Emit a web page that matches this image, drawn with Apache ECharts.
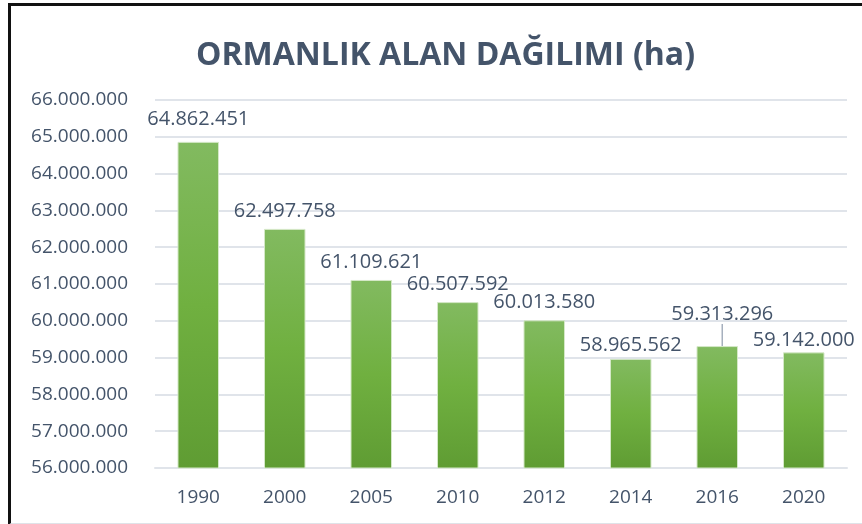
<!DOCTYPE html>
<html>
<head>
<meta charset="utf-8">
<script src="https://cdn.jsdelivr.net/npm/echarts@6/dist/echarts.min.js"></script>
<style>
  html, body { margin: 0; padding: 0; background: #fff; }
  #chart { position: absolute; left: 0; top: 0; width: 862px; height: 524px; }
  #frame { position: absolute; left: 8px; top: 3px; width: 860px; height: 517px;
           border-top: 3px solid #111; border-left: 3px solid #111; border-bottom: 2px solid #dfe3e8;
           pointer-events: none; box-sizing: content-box; }
</style>
</head>
<body>
<div id="chart"></div>
<div id="frame"></div>
<script>
const titleText = 'ORMANLIK ALAN DAĞILIMI (ha)';
const categories = ['1990', '2000', '2005', '2010', '2012', '2014', '2016', '2020'];
const values = [64862451, 62497758, 61109621, 60507592, 60013580, 58965562, 59313296, 59142000];
const yTicks = { min: 56000000, max: 66000000, interval: 1000000 };

// label style tweaks (not data)
const labelShift = [[0, -5], [0, 0], [0, 0], [0, 0], [0, 0], [0, 4], [5, -14], [0, 6]];
const leaderIndex = 6;

function fmt(v) {
  return String(v).replace(/\B(?=(\d{3})+(?!\d))/g, '.');
}

const textColor = '#44546A';
const font = "'Open Sans', 'Liberation Sans', sans-serif";

const seriesData = values.map((v, i) => i === leaderIndex
  ? { value: v, labelLine: { show: true, lineStyle: { color: '#a6b0be', width: 1.5 } } }
  : { value: v, labelLine: { show: false } });

const chart = echarts.init(document.getElementById('chart'), null, { renderer: 'canvas' });
chart.setOption({
  backgroundColor: '#fff',
  animation: false,
  title: {
    text: titleText,
    left: 191,
    top: 35,
    textStyle: { fontFamily: font, fontWeight: 'bold', fontSize: 32, color: textColor }
  },
  grid: { left: 155, right: 15, top: 100, bottom: 56, containLabel: false },
  xAxis: {
    type: 'category',
    data: categories,
    axisLine: { show: true, lineStyle: { color: '#e0e4ea', width: 2 } },
    axisTick: { show: false },
    axisLabel: { color: textColor, fontFamily: font, fontSize: 19, margin: 20 }
  },
  yAxis: {
    type: 'value',
    min: yTicks.min, max: yTicks.max, interval: yTicks.interval,
    axisLine: { show: false },
    axisTick: { show: false },
    splitLine: { lineStyle: { color: '#e0e4ea', width: 2 } },
    axisLabel: { color: textColor, fontFamily: font, fontSize: 19, margin: 27, formatter: fmt }
  },
  series: [{
    type: 'bar',
    data: seriesData,
    barWidth: '48%',
    itemStyle: {
      borderColor: '#d5e8c8',
      borderWidth: 1,
      color: new echarts.graphic.LinearGradient(0, 0, 0, 1, [
        { offset: 0, color: '#82ba60' },
        { offset: 0.5, color: '#70b040' },
        { offset: 1, color: '#5f9c33' }
      ])
    },
    label: {
      show: true,
      position: 'top',
      distance: 8,
      color: textColor,
      fontFamily: font,
      fontSize: 20,
      formatter: p => fmt(p.value)
    },
    labelLine: { show: false },
    labelLayout: function (p) {
      const s = labelShift[p.dataIndex] || [0, 0];
      return { dx: s[0], dy: s[1] };
    }
  }]
});
</script>
</body>
</html>
